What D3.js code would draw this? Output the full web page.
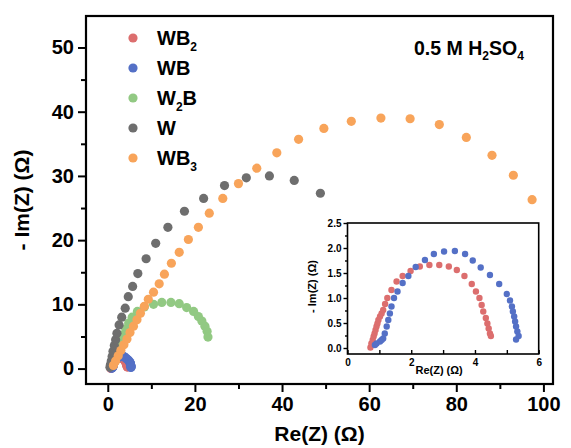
<!DOCTYPE html>
<html><head><meta charset="utf-8">
<script src="https://cdn.jsdelivr.net/npm/d3@7"></script>
<style>html,body{margin:0;padding:0;background:#fff;}svg{display:block;font-family:"Liberation Sans",Arial,sans-serif;}</style>
</head><body><svg id="c" width="571" height="448"></svg>
<script>
// ---- data ----
const seriesNames = ["WB2", "WB", "W2B", "W", "WB3"];
const seriesColors = ["#dc6e6e", "#5470c6", "#92c983", "#6e6e6e", "#f8a45a"];

const wb2X = [0.72,0.75,0.79,0.82,0.85,0.88,0.91,0.94,0.97,1.02,1.07,1.12,1.18,1.25,1.38,1.54,1.73,1.98,2.27,2.57,2.88,3.18,3.43,3.67,3.90,4.03,4.14,4.21,4.26,4.34,4.39,4.43,4.47,4.50];
const wb2Y = [0.01,0.09,0.16,0.23,0.29,0.36,0.43,0.49,0.56,0.63,0.69,0.76,0.88,1.00,1.16,1.33,1.44,1.54,1.63,1.66,1.66,1.63,1.56,1.44,1.28,1.13,1.00,0.86,0.73,0.60,0.49,0.39,0.29,0.24];

const wbX = [0.86,0.91,1.02,1.07,1.12,1.17,1.23,1.28,1.33,1.38,1.46,1.57,1.73,1.91,2.14,2.43,2.71,3.03,3.37,3.69,3.93,4.18,4.47,4.76,5.00,5.10,5.16,5.19,5.23,5.26,5.29,5.33,5.37,5.29];
const wbY = [0.06,0.09,0.13,0.16,0.19,0.29,0.43,0.56,0.69,0.83,1.00,1.13,1.30,1.44,1.62,1.76,1.88,1.93,1.94,1.88,1.75,1.61,1.46,1.28,1.08,0.95,0.83,0.73,0.63,0.53,0.43,0.33,0.24,0.17];

const w2bX = [1.0,1.3,1.7,2.2,2.8,3.4,4.1,4.8,5.6,6.8,8.4,10.5,12.4,14.5,16.4,18.1,19.7,20.8,21.6,22.3,22.8,23.0];
const w2bY = [0.5,1.3,2.2,3.2,4.2,5.2,6.2,7.1,8.0,8.9,9.6,10.0,10.3,10.3,10.1,9.5,8.9,8.1,7.4,6.6,5.8,4.9];

const wX = [0.5,0.6,0.8,1.0,1.2,1.5,1.8,2.1,2.6,3.2,4.0,4.7,5.7,6.9,8.8,11.0,13.8,17.6,22.0,26.8,31.8,37.1,42.8,48.8];
const wY = [0.2,0.6,1.2,1.9,2.7,3.6,4.5,5.5,6.8,8.0,9.4,11.2,12.8,14.8,17.1,19.5,22.0,24.5,26.5,28.5,29.7,30.0,29.3,27.3];

const wb3X = [1.3,1.8,2.4,3.0,3.7,4.4,5.1,5.9,6.7,7.5,8.4,9.3,10.5,11.8,13.0,14.6,16.4,18.5,20.8,23.3,26.4,30.0,34.2,38.8,43.8,49.6,55.9,62.7,69.4,76.1,82.3,88.2,93.1,97.4];
const wb3Y = [0.5,1.2,2.0,2.8,3.7,4.6,5.6,6.6,7.6,8.6,9.7,10.8,11.9,13.2,14.7,16.4,18.1,20.1,22.0,24.2,26.5,28.8,31.2,33.6,35.7,37.4,38.5,39.0,38.9,38.0,36.0,33.2,30.1,26.3];

const mainXTicks = [0,20,40,60,80,100];
const mainYTicks = [0,10,20,30,40,50];
const insetXTicks = [0,2,4,6];
const insetYTicks = [0.0,0.5,1.0,1.5,2.0,2.5];

// ---- build ----
const svg = d3.select("#c");
const allSeries = [
  {name:"WB2", x:wb2X, y:wb2Y},
  {name:"WB", x:wbX, y:wbY},
  {name:"W2B", x:w2bX, y:w2bY},
  {name:"W", x:wX, y:wY},
  {name:"WB3", x:wb3X, y:wb3Y}
];
const color = d3.scaleOrdinal().domain(seriesNames).range(seriesColors);

// main plot
const M = {l:86, r:553, t:16, b:384};
const x = d3.scaleLinear().domain([-5,102.2]).range([M.l, M.r]);
const y = d3.scaleLinear().domain([-2.4,54.9]).range([M.b, M.t]);

const gx = svg.append("g").attr("transform",`translate(0,${M.b})`)
  .call(d3.axisBottom(x).tickValues(d3.range(0,101,10)).tickSize(6).tickFormat(""));
gx.selectAll(".tick line").attr("stroke-width",2)
  .attr("y2", d => mainXTicks.includes(d) ? 8 : 5);
gx.select(".domain").remove();
const gx2 = svg.append("g").attr("transform",`translate(0,${M.b})`)
  .call(d3.axisBottom(x).tickValues(mainXTicks).tickSize(0).tickPadding(13).tickFormat(d3.format("d")));
gx2.select(".domain").remove();
gx2.selectAll("text").attr("font-size",20).attr("font-weight","bold").attr("fill","#000");

const gy = svg.append("g").attr("transform",`translate(${M.l},0)`)
  .call(d3.axisLeft(y).tickValues(d3.range(0,51,5)).tickSize(6).tickFormat(""));
gy.selectAll(".tick line").attr("stroke-width",2)
  .attr("x2", d => mainYTicks.includes(d) ? -8 : -5);
gy.select(".domain").remove();
const gy2 = svg.append("g").attr("transform",`translate(${M.l},0)`)
  .call(d3.axisLeft(y).tickValues(mainYTicks).tickSize(0).tickPadding(12).tickFormat(d3.format("d")));
gy2.select(".domain").remove();
gy2.selectAll("text").attr("font-size",20).attr("font-weight","bold").attr("fill","#000");

svg.append("rect").attr("x",M.l).attr("y",M.t).attr("width",M.r-M.l).attr("height",M.b-M.t)
  .attr("fill","none").attr("stroke","#000").attr("stroke-width",2.2);

// axis titles
svg.append("text").attr("x",(M.l+M.r)/2).attr("y",441).attr("text-anchor","middle")
  .attr("font-size",21).attr("font-weight","bold").text("Re(Z) (Ω)");
svg.append("text").attr("transform",`translate(29,200) rotate(-90)`).attr("text-anchor","middle")
  .attr("font-size",21).attr("font-weight","bold").text("- Im(Z) (Ω)");

// main points
const gMain = svg.append("g");
allSeries.forEach(s => {
  gMain.append("g").selectAll("circle").data(d3.range(s.x.length)).join("circle")
    .attr("cx", i => x(s.x[i])).attr("cy", i => y(s.y[i])).attr("r",4.6)
    .attr("fill", color(s.name));
});

// legend
const legendLabels = [["WB","2"],["WB",""],["W","2","B"],["W",""],["WB","3"]];
const lg = svg.append("g");
seriesNames.forEach((n,i) => {
  const ly = 38 + i*30;
  lg.append("circle").attr("cx",133).attr("cy",ly).attr("r",4.6).attr("fill",color(n));
  const t = lg.append("text").attr("x",157).attr("y",ly+7).attr("font-size",20).attr("font-weight","bold");
  const parts = legendLabels[i];
  t.append("tspan").text(parts[0]);
  if (parts[1]) t.append("tspan").attr("font-size",12).attr("dy",6).text(parts[1]);
  if (parts[2]) t.append("tspan").attr("dy",-6).text(parts[2]);
});

// annotation
const an = svg.append("text").attr("x",414).attr("y",55).attr("font-size",19.5).attr("font-weight","bold");
an.append("tspan").text("0.5 M H");
an.append("tspan").attr("font-size",12).attr("dy",5).text("2");
an.append("tspan").attr("dy",-5).text("SO");
an.append("tspan").attr("font-size",12).attr("dy",5).text("4");

// inset
const I = {l:347.5, r:538.7, t:223, b:354};
const ix = d3.scaleLinear().domain([0,6]).range([I.l, I.r]);
const iy = d3.scaleLinear().domain([-0.12,2.5]).range([I.b, I.t]);
svg.append("rect").attr("x",I.l).attr("y",I.t).attr("width",I.r-I.l).attr("height",I.b-I.t)
  .attr("fill","#fff").attr("stroke","none");

const ig = svg.append("g");
allSeries.filter(s => s.name==="WB2" || s.name==="WB").forEach(s => {
  ig.append("g").selectAll("circle").data(d3.range(s.x.length)).join("circle")
    .attr("cx", i => ix(s.x[i])).attr("cy", i => iy(s.y[i])).attr("r",3.2)
    .attr("fill", color(s.name));
});

svg.append("rect").attr("x",I.l).attr("y",I.t).attr("width",I.r-I.l).attr("height",I.b-I.t)
  .attr("fill","none").attr("stroke","#000").attr("stroke-width",1.6);

const igx = svg.append("g").attr("transform",`translate(0,${I.b})`)
  .call(d3.axisTop(ix).tickValues(d3.range(0,6.01,1)).tickSize(4).tickFormat(""));
igx.select(".domain").remove();
igx.selectAll(".tick line").attr("stroke-width",1.4);
const igx2 = svg.append("g").attr("transform",`translate(0,${I.b})`)
  .call(d3.axisBottom(ix).tickValues(insetXTicks).tickSize(0).tickPadding(5).tickFormat(d3.format("d")));
igx2.select(".domain").remove();
igx2.selectAll("text").attr("font-size",10).attr("font-weight","bold").attr("fill","#000");

const igy = svg.append("g").attr("transform",`translate(${I.l},0)`)
  .call(d3.axisLeft(iy).tickValues(d3.range(0,2.51,0.25)).tickSize(3).tickFormat(""));
igy.select(".domain").remove();
igy.selectAll(".tick line").attr("stroke-width",1.4).attr("x2", (d,i) => i%2===0 ? -4 : -2.5);
const igy2 = svg.append("g").attr("transform",`translate(${I.l},0)`)
  .call(d3.axisLeft(iy).tickValues(insetYTicks).tickSize(0).tickPadding(6).tickFormat(d3.format(".1f")));
igy2.select(".domain").remove();
igy2.selectAll("text").attr("font-size",10).attr("font-weight","bold").attr("fill","#000");

svg.append("text").attr("x",(I.l+I.r)/2 - 4).attr("y",I.b+20).attr("text-anchor","middle")
  .attr("font-size",11).attr("font-weight","bold").text("Re(Z) (Ω)");
svg.append("text").attr("transform",`translate(316,${(I.t+I.b)/2 - 2}) rotate(-90)`).attr("text-anchor","middle")
  .attr("font-size",11).attr("font-weight","bold").text("- Im(Z) (Ω)");
</script></body></html>
